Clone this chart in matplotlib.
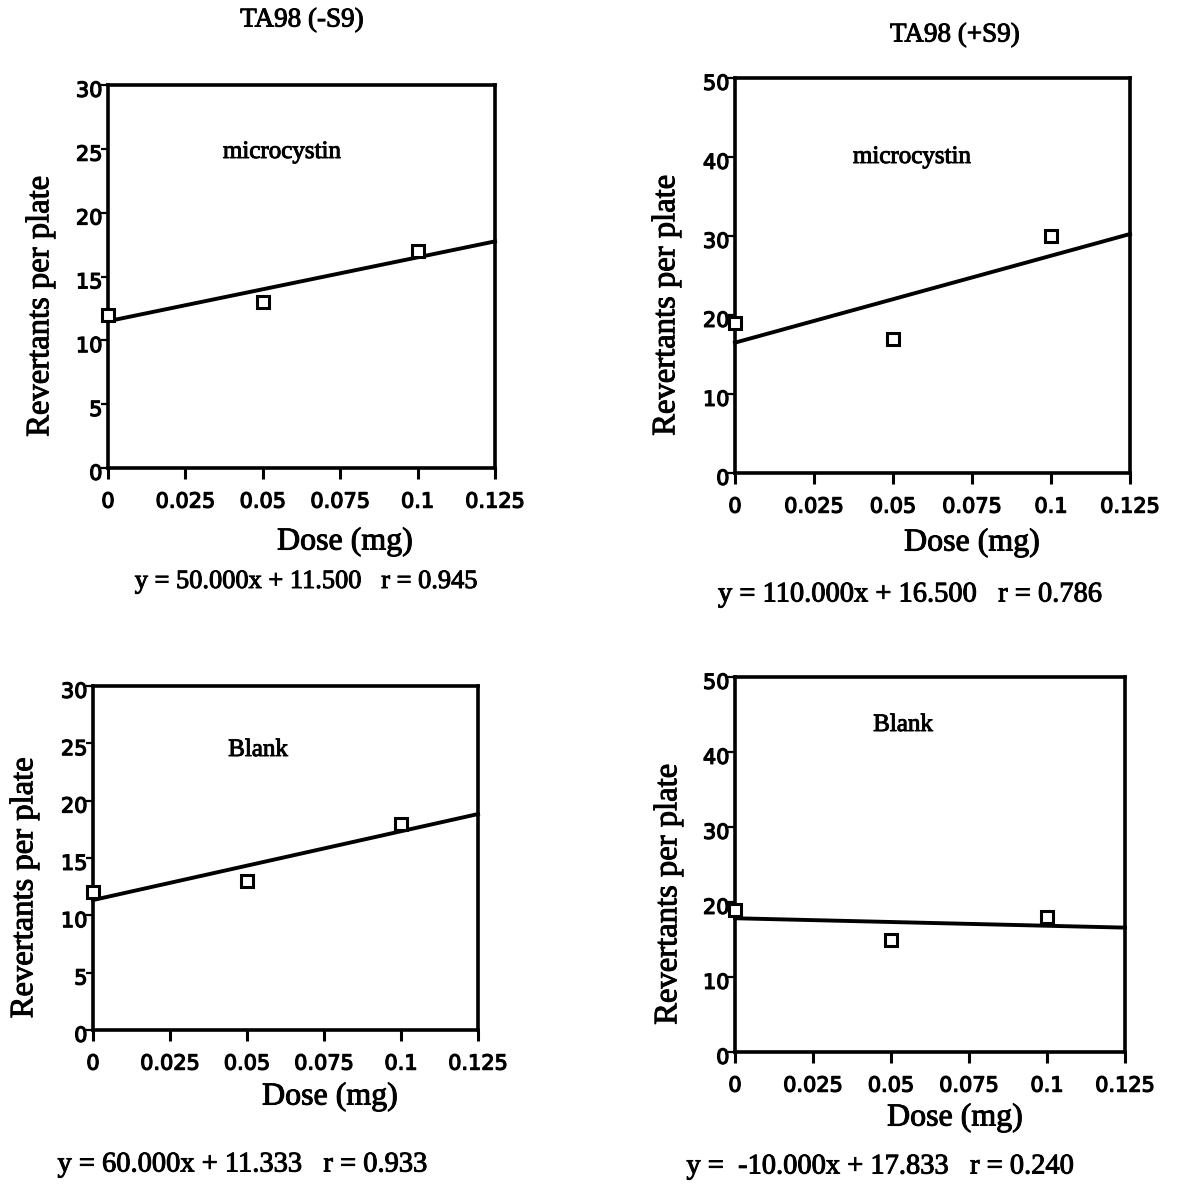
import numpy as np
import matplotlib
matplotlib.use("Agg")
import matplotlib.pyplot as plt
import matplotlib.transforms as mtransforms
import matplotlib.patheffects as pe

# dose levels (mg) and revertant counts per plate
dose = [0, 0.05, 0.1]
micro_minus_s9 = [12, 13, 17]
micro_plus_s9 = [19, 17, 30]
blank_minus_s9 = [12, 13, 18]
blank_plus_s9 = [19, 15, 18]

# linear fits y = a*x + b, with r
fit_slope = [50.000, 110.000, 60.000, -10.000]
fit_icept = [11.500, 16.500, 11.333, 17.833]
fit_r = [0.945, 0.786, 0.933, 0.240]

x_ticks = [0, 0.025, 0.05, 0.075, 0.1, 0.125]
x_ticklabels = ["0", "0.025", "0.05", "0.075", "0.1", "0.125"]

W = H = 1184
SERIF = "Liberation Serif"
SANS = "DejaVu Sans"
heavy = [pe.withStroke(linewidth=0.7, foreground="black")]
tickfx = [pe.withStroke(linewidth=0.9, foreground="black")]


def rect(l, r, t, b):
    return [l / W, 1 - b / H, (r - l) / W, (b - t) / H]


def ftext(x, y, s, **kw):
    fig.text(x / W, 1 - y / H, s, ha="center", va="center", family=SERIF,
             path_effects=heavy, **kw)


fig = plt.figure(figsize=(W / 100, H / 100), dpi=100)

panels = [
    # values, ymax, ystep, axes box, label, label pos, ylabel x, xlabel pos, eq pos, eq size
    (micro_minus_s9, 30, 5, (108, 495, 85, 468), "microcystin", (282, 152), 40, (345, 542), (306, 582), 19),
    (micro_plus_s9, 50, 10, (735, 1130, 78, 473), "microcystin", (912, 157), 666, (972, 543), (910, 595), 20.5),
    (blank_minus_s9, 30, 5, (93, 478, 686, 1030), "Blank", (258, 750), 24, (330, 1097), (242, 1165), 20.5),
    (blank_plus_s9, 50, 10, (735, 1125, 677, 1052), "Blank", (903, 725), 668, (955, 1118), (880, 1167), 20.5),
]

for i, (vals, ymax, ystep, box, name, npos, ylx, xlpos, eqpos, eqsize) in enumerate(panels):
    ax = fig.add_axes(rect(*box))
    xs = np.array([0, 0.125])
    ax.plot(xs, fit_slope[i] * xs + fit_icept[i], color="black", lw=2.8, clip_on=False)
    ax.plot(dose, vals, ls="none", marker="s", ms=9, mfc="white", mec="black",
            mew=2.2, clip_on=False, zorder=5)
    ax.set_xlim(0, 0.125)
    ax.set_ylim(0, ymax)
    ax.set_xticks(x_ticks)
    ax.set_xticklabels(x_ticklabels, family=SANS, fontsize=15, path_effects=tickfx)
    yt = list(range(0, ymax + 1, ystep))
    ax.set_yticks(yt)
    ax.set_yticklabels([str(v) for v in yt], family=SANS, fontsize=15, path_effects=tickfx)
    ax.tick_params(axis="x", direction="out", length=8, width=2.2, pad=9)
    ax.tick_params(axis="y", direction="out", length=5, width=1.6, pad=-1)
    # y labels sit just below their tick marks
    shift = mtransforms.ScaledTranslation(0, 3 / 72, fig.dpi_scale_trans)
    for lab in ax.get_yticklabels():
        lab.set_va("top")
        lab.set_transform(lab.get_transform() + shift)
    for sp in ax.spines.values():
        sp.set_linewidth(2.6)

    b = box
    ftext(npos[0], npos[1], name, fontsize=18)
    ftext(ylx, (b[2] + b[3]) / 2 + 30, "Revertants per plate", fontsize=23.5, rotation=90)
    ftext(xlpos[0], xlpos[1], "Dose (mg)", fontsize=23)
    sign = "" if fit_slope[i] >= 0 else " "
    eq = "y = %s%.3fx + %.3f   r = %.3f" % (sign, fit_slope[i], fit_icept[i], fit_r[i])
    ftext(eqpos[0], eqpos[1], eq, fontsize=eqsize)

ftext(302, 20, "TA98 (-S9)", fontsize=19.5)
ftext(955, 35, "TA98 (+S9)", fontsize=19.5)

fig.savefig("out.png", dpi=100, facecolor="white")
